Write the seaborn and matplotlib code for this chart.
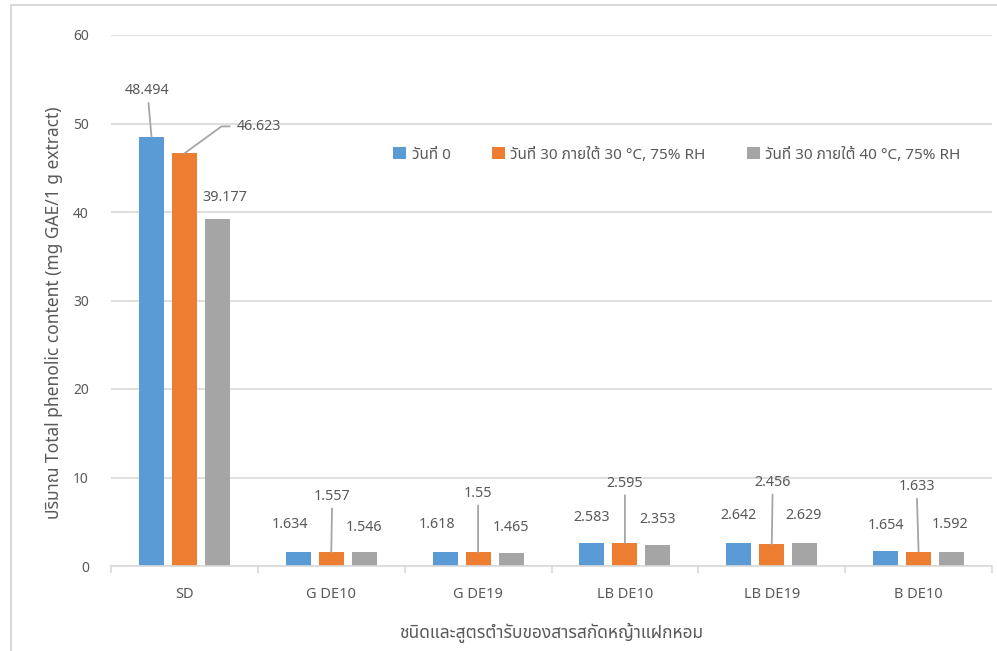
import matplotlib
matplotlib.use("Agg")
import matplotlib.pyplot as plt
from matplotlib import font_manager
from matplotlib.patches import Rectangle
import seaborn as sns
import pandas as pd

# ---------------- data ----------------
categories = ["SD", "G DE10", "G DE19", "LB DE10", "LB DE19", "B DE10"]
series_names = ["วันที่ 0", "วันที่ 30 ภายใต้ 30 °C, 75% RH", "วันที่ 30 ภายใต้ 40 °C, 75% RH"]
day0 = [48.494, 1.634, 1.618, 2.583, 2.642, 1.654]
day30_30c = [46.623, 1.557, 1.55, 2.595, 2.456, 1.633]
day30_40c = [39.177, 1.546, 1.465, 2.353, 2.629, 1.592]
label_texts = [
    ["48.494", "1.634", "1.618", "2.583", "2.642", "1.654"],
    ["46.623", "1.557", "1.55", "2.595", "2.456", "1.633"],
    ["39.177", "1.546", "1.465", "2.353", "2.629", "1.592"],
]
y_ticks = [0, 10, 20, 30, 40, 50, 60]
x_title = "ชนิดและสูตรตำรับของสารสกัดหญ้าแฝกหอม"
y_title = "ปริมาณ Total phenolic content (mg GAE/1 g extract)"

# ---------------- style / layout ----------------
colors = ["#5B9BD5", "#ED7D31", "#A5A5A5"]
text_color = "#595959"
grid_color = "#D9D9D9"
# label offsets in pixels (dx, dy up) from bar top centre, and leader-line style
label_offsets = [
    [(-4, 46, "straight"), (-8, 27, None), (-8, 27, None), (0, 26, None), (0, 27, None), (0, 26, None)],
    [(75, 27, "elbow"), (1, 56, "straight"), (0, 59, "straight"), (0, 60, "straight"), (1, 62, "straight"), (-2, 65, "straight")],
    [(8, 22, None), (0, 25, None), (0, 26, None), (0, 26, None), (-1, 27, None), (-1, 27, None)],
]

sns.set_theme(style="white")


def find_thai_font():
    try:
        from fontTools.ttLib import TTFont
    except Exception:
        return None
    found = []
    for f in font_manager.fontManager.ttflist:
        try:
            tt = TTFont(f.fname, fontNumber=0, lazy=True)
            cmap = tt.getBestCmap()
            if cmap and 0x0E27 in cmap and 0x0E19 in cmap:
                found.append(f.name)
        except Exception:
            pass
    if not found:
        return None
    for pref in ["Noto Sans Thai", "Noto Sans Thai UI", "Tahoma", "Leelawadee", "Loma", "Garuda", "Sarabun"]:
        if pref in found:
            return pref
    return found[0]


thai = find_thai_font()
families = ["Noto Sans"] + ([thai] if thai else []) + ["DejaVu Sans"]
plt.rcParams["font.family"] = families
plt.rcParams["font.size"] = 10

df = pd.DataFrame({
    "category": categories * 3,
    "series": [series_names[0]] * 6 + [series_names[1]] * 6 + [series_names[2]] * 6,
    "value": day0 + day30_30c + day30_40c,
})

fig = plt.figure(figsize=(9.97, 6.51), dpi=100)
ax = fig.add_axes([111 / 997, 1 - 566 / 651, (992 - 111) / 997, (566 - 35) / 651])

sns.barplot(data=df, x="category", y="value", hue="series", order=categories,
            hue_order=series_names, palette=colors, width=0.673, gap=0.24,
            linewidth=0, errorbar=None, ax=ax, saturation=1)

ax.set_ylim(0, 60)
ax.set_xlim(-0.5, len(categories) - 0.5)
ax.set_yticks(y_ticks)
ax.set_yticklabels([str(t) for t in y_ticks], color=text_color, fontsize=10)
ax.tick_params(axis="y", length=0, pad=16)
ax.yaxis.grid(True, color=grid_color, linewidth=1.2)
ax.set_axisbelow(True)

# category boundaries as major ticks, labels as minor
ax.set_xticks([i - 0.5 for i in range(len(categories) + 1)])
ax.set_xticklabels([""] * (len(categories) + 1))
ax.set_xticks(range(len(categories)), minor=True)
ax.set_xticklabels(categories, minor=True, color=text_color, fontsize=10.5)
ax.tick_params(axis="x", which="major", length=5, width=1.2, color=grid_color, direction="out", bottom=True)
ax.tick_params(axis="x", which="minor", length=0, pad=15)

for s in ["top", "right", "left"]:
    ax.spines[s].set_visible(False)
ax.spines["bottom"].set_color(grid_color)
ax.spines["bottom"].set_linewidth(1.2)

ax.set_xlabel(x_title, color=text_color, fontsize=12.5, labelpad=15)
ax.set_ylabel(y_title, color=text_color, fontsize=12.5, labelpad=6)
ax.yaxis.set_label_coords(-0.054, 0.476)

# data labels
containers = ax.containers
for si, cont in enumerate(containers):
    for ci, bar in enumerate(cont):
        xc = bar.get_x() + bar.get_width() / 2
        yt = bar.get_height()
        dx, dy, line = label_offsets[si][ci]
        kw = {}
        if line == "straight":
            kw["arrowprops"] = dict(arrowstyle="-", color="#A6A6A6", lw=1.3, shrinkA=1, shrinkB=0)
        elif line == "elbow":
            kw["arrowprops"] = dict(arrowstyle="-", color="#A6A6A6", lw=1.3, shrinkA=3, shrinkB=0,
                                    relpos=(0, 0.5),
                                    connectionstyle="angle,angleA=0,angleB=36,rad=0")
        ax.annotate(label_texts[si][ci], xy=(xc, yt), xytext=(dx, dy), textcoords="offset pixels",
                    ha="center", va="center", color=text_color, fontsize=10.3, **kw)

leg = ax.legend(ncol=3, loc="center", bbox_to_anchor=((677 - 111) / 881, (566 - 155) / 531),
                frameon=False, handlelength=0.85, handleheight=0.85, handletextpad=0.35,
                columnspacing=2.7, fontsize=11)
for t in leg.get_texts():
    t.set_color(text_color)

# chart border
fig.add_artist(Rectangle((11 / 997, -0.05), 1.1, 1 - 5 / 651 + 0.05, transform=fig.transFigure,
                         fill=False, edgecolor=grid_color, linewidth=1.5))

fig.savefig("out.png", dpi=100)
